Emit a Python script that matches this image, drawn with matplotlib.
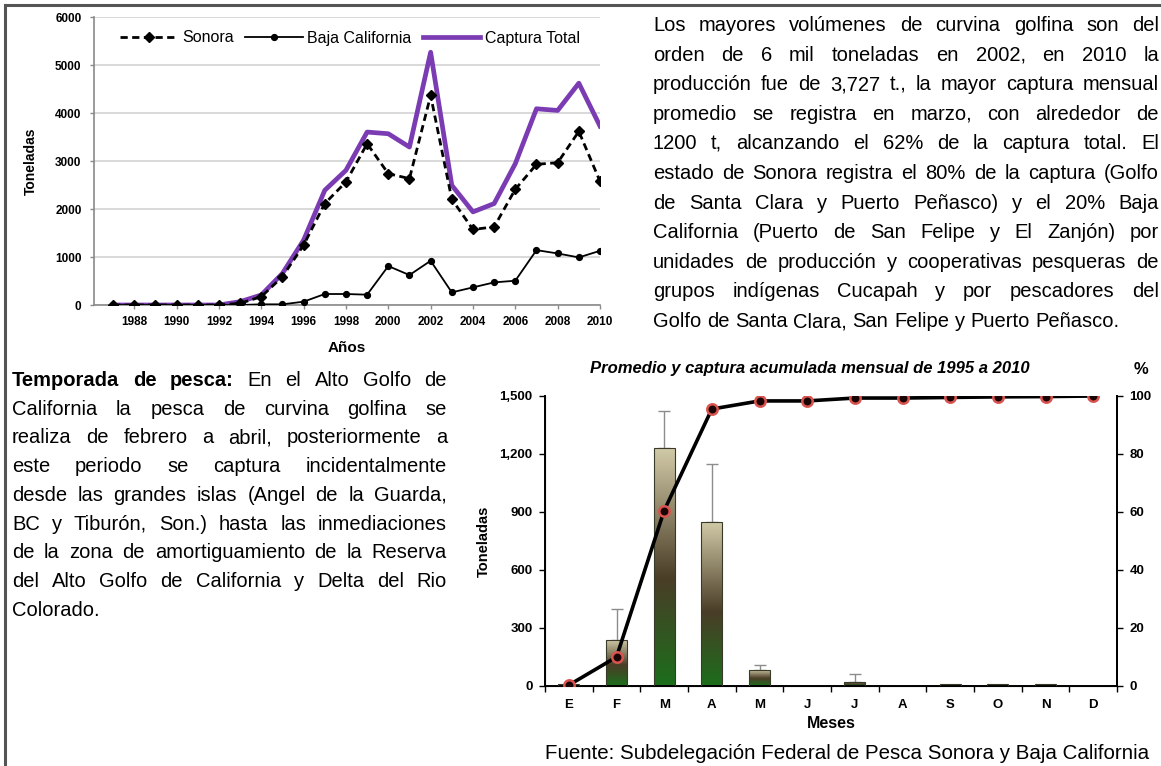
import numpy as np
import matplotlib
matplotlib.use('Agg')
import matplotlib.pyplot as plt
from matplotlib.colors import LinearSegmentedColormap
from matplotlib.lines import Line2D

# ---------------- data ----------------
years = list(range(1987, 2011))
sonora = [0, 0, 0, 0, 0, 0, 35, 173, 589, 1247, 2113, 2564, 3360, 2737, 2633, 4365,
          2203, 1573, 1628, 2411, 2931, 2965, 3617, 2577]
baja_california = [0, 0, 0, 0, 0, 0, 0, 14, 14, 69, 229, 229, 215, 811, 624, 921,
                   263, 367, 471, 506, 1143, 1074, 991, 1129]
captura_total = [0, 0, 0, 0, 0, 0, 69, 208, 658, 1351, 2390, 2806, 3603, 3568, 3291, 5266,
                 2494, 1940, 2113, 2945, 4088, 4053, 4621, 3727]
year_ticks = list(range(1988, 2011, 2))
ton_ticks = list(range(0, 6001, 1000))

months = ['E', 'F', 'M', 'A', 'M', 'J', 'J', 'A', 'S', 'O', 'N', 'D']
promedio = [8, 240, 1232, 850, 85, 0, 22, 0, 8, 8, 8, 0]
error_sup = [0, 160, 193, 300, 25, 0, 38, 0, 0, 0, 0, 0]
acumulada = [0.3, 10, 60.5, 95.5, 98.3, 98.3, 99.3, 99.3, 99.5, 99.7, 99.8, 100]
mes_ticks = [0, 300, 600, 900, 1200, 1500]
mes_tick_labels = ['0', '300', '600', '900', '1,200', '1,500']
pct_ticks = [0, 20, 40, 60, 80, 100]

texto_derecha = [
    "Los mayores volúmenes de curvina golfina son del",
    "orden de 6 mil toneladas en 2002, en 2010 la",
    "producción fue de 3,727 t., la mayor captura mensual",
    "promedio se registra en marzo, con alrededor de",
    "1200 t, alcanzando el 62% de la captura total. El",
    "estado de Sonora registra el 80% de la captura (Golfo",
    "de Santa Clara y Puerto Peñasco) y el 20% Baja",
    "California (Puerto de San Felipe y El Zanjón) por",
    "unidades de producción y cooperativas pesqueras de",
    "grupos indígenas Cucapah y por pescadores del",
    "Golfo de Santa Clara, San Felipe y Puerto Peñasco.",
]
texto_izquierda = [
    "Temporada de pesca: En el Alto Golfo de",
    "California la pesca de curvina golfina se",
    "realiza de febrero a abril, posteriormente a",
    "este periodo se captura incidentalmente",
    "desde las grandes islas (Angel de la Guarda,",
    "BC y Tiburón, Son.) hasta las inmediaciones",
    "de la zona de amortiguamiento de la Reserva",
    "del Alto Golfo de California y Delta del Rio",
    "Colorado.",
]
fuente = "Fuente: Subdelegación Federal de Pesca Sonora y Baja California"

# ---------------- figure ----------------
plt.rcParams['font.family'] = 'Liberation Sans'
W, H = 1161, 766
fig = plt.figure(figsize=(W / 100, H / 100), dpi=100)
fig.patch.set_facecolor('white')


def rect(l, t, r, b):
    return [l / W, 1 - b / H, (r - l) / W, (b - t) / H]


# page border lines
fig.add_artist(Line2D([5 / W, 1], [1 - 5 / H, 1 - 5 / H], color='#555555', lw=2.2))
fig.add_artist(Line2D([5 / W, 5 / W], [0, 1 - 5 / H], color='#555555', lw=2.2))

# ---------------- top chart ----------------
ax = fig.add_axes(rect(94, 17, 600, 305))
purple = '#7b3cb3'
ax.plot(years, captura_total, color=purple, lw=3.4, zorder=2, label='Captura Total')
ax.plot(years, baja_california, color='black', lw=1.3, marker='o', ms=4.2,
        zorder=3, label='Baja California')
ax.plot(years, sonora, color='black', lw=2.0, ls=(0, (2.6, 1.6)), marker='D', ms=5,
        zorder=4, label='Sonora')
ax.set_xlim(1986.1, 2010)
ax.set_ylim(0, 6000)
ax.set_xticks(year_ticks)
ax.set_yticks(ton_ticks)
ax.grid(axis='y', color='#cfcfcf', lw=1.1)
ax.set_axisbelow(True)
for s in ['top', 'right']:
    ax.spines[s].set_visible(False)
for s in ['left', 'bottom']:
    ax.spines[s].set_color('#8a8a8a')
    ax.spines[s].set_linewidth(1.2)
ax.tick_params(axis='both', colors='#8a8a8a', length=3, width=1, labelcolor='black')
for lab in ax.get_xticklabels() + ax.get_yticklabels():
    lab.set_fontweight('bold')
    lab.set_fontsize(8.5)
ax.tick_params(axis='y', pad=6)
ax.tick_params(axis='x', pad=5)
ax.set_ylabel('Toneladas', fontsize=10, fontweight='bold', labelpad=12)
ax.set_xlabel('Años', fontsize=11, fontweight='bold', labelpad=9)
h, l = ax.get_legend_handles_labels()
order = [2, 1, 0]
leg = ax.legend([h[i] for i in order], [l[i] for i in order], ncol=3, frameon=False,
                loc='center', bbox_to_anchor=((350 - 94) / (600 - 94), 1 - (38 - 17) / (305 - 17)),
                fontsize=11.5, handlelength=3.6, columnspacing=0.7, handletextpad=0.3)

# ---------------- bottom chart ----------------
bx = fig.add_axes(rect(545, 396, 1117, 686))
x = np.arange(len(months))
bw = 0.44
cmap = LinearSegmentedColormap.from_list(
    'grad', [(0.0, '#1c6e1c'), (0.45, '#4a3d27'), (1.0, '#d2cba8')])
bars = bx.bar(x, promedio, width=bw, color='none', edgecolor='#3a3a2a', lw=0.8, zorder=3)
grad = np.linspace(0, 1, 256).reshape(-1, 1)
for b in bars:
    hgt = b.get_height()
    if hgt <= 0:
        continue
    im = bx.imshow(grad, extent=[b.get_x(), b.get_x() + b.get_width(), 0, hgt],
                   origin='lower', aspect='auto', cmap=cmap, zorder=2)
    im.set_clip_path(b)
err = np.array(error_sup)
m = err > 0
bx.errorbar(x[m], np.array(promedio)[m], yerr=[np.zeros(m.sum()), err[m]], fmt='none',
            ecolor='#8c8c8c', elinewidth=1, capsize=4, capthick=1, zorder=1.5)
bx.set_xlim(-0.5, len(months) - 0.5)
bx.set_ylim(0, 1500)
bx.set_yticks(mes_ticks)
bx.set_yticklabels(mes_tick_labels)
bx.set_xticks(np.arange(len(months) + 1) - 0.5)
bx.set_xticklabels([])
bx.set_xticks(x, minor=True)
bx.set_xticklabels(months, minor=True)
bx.tick_params(axis='x', which='minor', length=0, pad=9)
bx.tick_params(axis='x', which='major', length=4, width=1)
bx.tick_params(axis='y', length=4, width=1, pad=5)
bx.spines['top'].set_visible(False)
for s in ['left', 'bottom', 'right']:
    bx.spines[s].set_linewidth(1.4)
for lab in bx.get_xticklabels(minor=True) + bx.get_yticklabels():
    lab.set_fontweight('bold')
    lab.set_fontsize(9.5)
bx.set_ylabel('Toneladas', fontsize=10.5, fontweight='bold', labelpad=6)
bx.set_xlabel('Meses', fontsize=11.5, fontweight='bold', labelpad=4)

bx2 = bx.twinx()
bx2.plot(x, acumulada, color='black', lw=2.6, marker='o', ms=7.5, mfc='#1a0505',
         mec='#d9534f', mew=1.8, zorder=5)
bx2.set_ylim(0, 100)
bx2.set_yticks(pct_ticks)
bx2.spines['top'].set_visible(False)
bx2.spines['right'].set_linewidth(1.4)
bx2.tick_params(axis='y', length=4, width=1, pad=5)
for lab in bx2.get_yticklabels():
    lab.set_fontweight('bold')
    lab.set_fontsize(9.5)

fig.text(810 / W, 1 - 369 / H, 'Promedio y captura acumulada mensual de 1995 a 2010',
         fontsize=12, fontweight='bold', fontstyle='italic', ha='center', va='center')
fig.text(1141 / W, 1 - 369 / H, '%', fontsize=12, fontweight='bold', ha='center', va='center')
fig.text(847 / W, 1 - 759 / H, fuente, fontsize=14.8, ha='center', va='baseline')

# ---------------- justified paragraphs ----------------
fig.canvas.draw()
renderer = fig.canvas.get_renderer()


def text_width(s, size, weight='normal'):
    t = fig.text(0, 0, s, fontsize=size, fontweight=weight)
    w = t.get_window_extent(renderer).width
    t.remove()
    return w


def justify(lines, x0, x1, base0, dy, size, bold_words=0):
    space = text_width('a a', size) - text_width('aa', size)
    for i, line in enumerate(lines):
        words = line.split(' ')
        y = 1 - (base0 + i * dy) / H
        arts, widths = [], []
        for j, wd in enumerate(words):
            wt = 'bold' if (i == 0 and j < bold_words) else 'normal'
            t = fig.text(0, y, wd, fontsize=size, fontweight=wt, va='baseline', ha='left')
            arts.append(t)
            widths.append(t.get_window_extent(renderer).width)
        if i == len(lines) - 1 or len(words) == 1:
            gap = space
        else:
            gap = (x1 - x0 - sum(widths)) / (len(words) - 1)
        xx = x0
        for t, wdt in zip(arts, widths):
            t.set_x(xx / W)
            xx += wdt + gap


justify(texto_derecha, 653, 1159, 31, 29.6, 14.5)
justify(texto_izquierda, 12, 447, 386, 28.7, 14.5, bold_words=3)

fig.savefig('out.png', dpi=100)
